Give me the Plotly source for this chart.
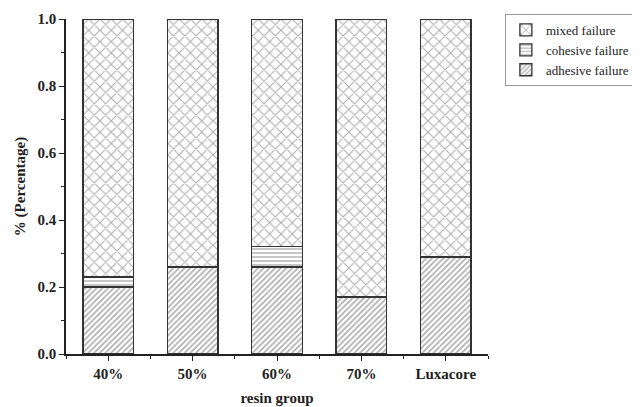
import plotly.graph_objects as go

groups = ["40%", "50%", "60%", "70%", "Luxacore"]
adhesive = [0.20, 0.26, 0.26, 0.17, 0.29]
cohesive = [0.03, 0.00, 0.06, 0.00, 0.00]
mixed = [0.77, 0.74, 0.68, 0.83, 0.71]

xpos = list(range(len(groups)))
serif = "Liberation Serif"

fig = go.Figure()
series = [
    ("adhesive failure", adhesive, "/", 4, 0.4),
    ("cohesive failure", cohesive, "-", 4, 0.35),
    ("mixed failure", mixed, "x", 8, 0.25),
]
for name, vals, shape, size, sol in series:
    fig.add_trace(go.Bar(
        x=xpos, y=vals, name=name, width=0.6,
        marker=dict(
            color="white",
            line=dict(color="#333333", width=1.3),
            pattern=dict(shape=shape, fgcolor="#5a5a5a", bgcolor="white",
                         size=size, solidity=sol, fillmode="overlay"),
        ),
    ))

# page body has an 8px default margin, so the figure is 632x399
fig.update_layout(
    width=632, height=399,
    barmode="stack",
    plot_bgcolor="white", paper_bgcolor="white",
    margin=dict(l=58, r=152, t=11, b=53, autoexpand=False),
    font=dict(family=serif, color="#222222"),
    legend=dict(
        traceorder="reversed",
        x=1.04, y=1.015, xanchor="left", yanchor="top",
        bordercolor="#999999", borderwidth=1,
        font=dict(family=serif, size=13, color="#222222"),
        tracegroupgap=0,
    ),
    showlegend=True,
)

fig.update_xaxes(
    range=[-0.5, 4.5], automargin=False,
    tickvals=xpos, ticktext=groups,
    showline=True, linecolor="#222222", linewidth=1.5,
    ticks="outside", ticklen=5, tickwidth=1.2, tickcolor="#222222",
    minor=dict(tick0=0.5, dtick=1, ticks="outside", ticklen=3, tickcolor="#222222"),
    showgrid=False, zeroline=False,
    tickfont=dict(family=serif, size=15, color="#222222", weight="bold"),
    title=dict(text="resin group", font=dict(family=serif, size=15, color="#222222", weight="bold"), standoff=12),
)
fig.update_yaxes(
    range=[0, 1], dtick=0.2, tickformat=".1f", automargin=False,
    showline=True, linecolor="#222222", linewidth=1.5,
    ticks="outside", ticklen=5, tickwidth=1.2, tickcolor="#222222",
    minor=dict(dtick=0.1, ticks="outside", ticklen=3, tickcolor="#222222"),
    showgrid=False, zeroline=False,
    tickfont=dict(family=serif, size=15, color="#222222", weight="bold"),
    title=dict(text="% (Percentage)", font=dict(family=serif, size=15, color="#222222", weight="bold"), standoff=8),
)

fig.write_html("out.html")
